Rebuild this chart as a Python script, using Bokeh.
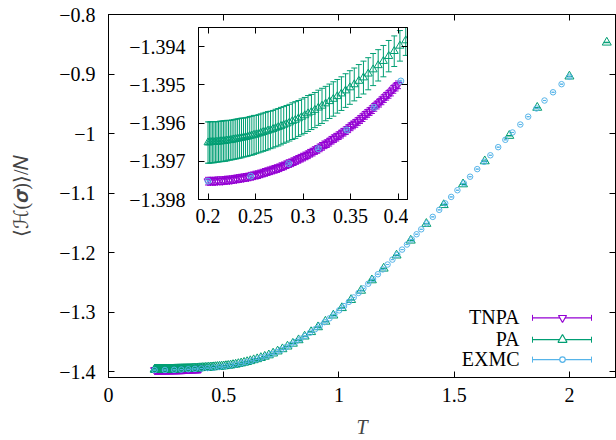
from bokeh.plotting import figure
from bokeh.models import Range1d, LinearAxis, FixedTicker, CustomJSTickFormatter, ColumnDataSource
from bokeh.layouts import column
from bokeh.embed import file_html
from bokeh.resources import INLINE
from bokeh.core.properties import value

# ---------------- data ----------------
TNPA_T = [0.2000, 0.2025, 0.2050, 0.2075, 0.2100, 0.2125, 0.2150, 0.2175, 0.2200, 0.2225,
          0.2250, 0.2275, 0.2300, 0.2325, 0.2350, 0.2375, 0.2400, 0.2425, 0.2450, 0.2475,
          0.2500, 0.2525, 0.2550, 0.2575, 0.2600, 0.2625, 0.2650, 0.2675, 0.2700, 0.2725,
          0.2750, 0.2775, 0.2800, 0.2825, 0.2850, 0.2875, 0.2900, 0.2925, 0.2950, 0.2975,
          0.3000, 0.3025, 0.3050, 0.3075, 0.3100, 0.3125, 0.3150, 0.3175, 0.3200, 0.3225,
          0.3250, 0.3275, 0.3300, 0.3325, 0.3350, 0.3375, 0.3400, 0.3425, 0.3450, 0.3475,
          0.3500, 0.3525, 0.3550, 0.3575, 0.3600, 0.3625, 0.3650, 0.3675, 0.3700, 0.3725,
          0.3750, 0.3775, 0.3800, 0.3825, 0.3850, 0.3875, 0.3900, 0.3925, 0.3950, 0.3975,
          0.4000]
TNPA_E = [-1.39752, -1.39752, -1.39752, -1.39752, -1.39751, -1.39751, -1.39751, -1.39750, -1.39749, -1.39749,
          -1.39748, -1.39747, -1.39746, -1.39745, -1.39744, -1.39743, -1.39742, -1.39741, -1.39739, -1.39738,
          -1.39736, -1.39735, -1.39733, -1.39731, -1.39729, -1.39727, -1.39725, -1.39723, -1.39721, -1.39719,
          -1.39717, -1.39714, -1.39712, -1.39709, -1.39706, -1.39704, -1.39701, -1.39698, -1.39695, -1.39692,
          -1.39689, -1.39686, -1.39683, -1.39679, -1.39676, -1.39672, -1.39669, -1.39665, -1.39661, -1.39657,
          -1.39654, -1.39650, -1.39645, -1.39641, -1.39637, -1.39633, -1.39629, -1.39624, -1.39620, -1.39615,
          -1.39610, -1.39605, -1.39601, -1.39596, -1.39591, -1.39586, -1.39580, -1.39575, -1.39570, -1.39565,
          -1.39559, -1.39553, -1.39548, -1.39542, -1.39536, -1.39530, -1.39525, -1.39519, -1.39512, -1.39506,
          -1.39500]
TNPA_ERR = [0.00010, 0.00010, 0.00010, 0.00010, 0.00010, 0.00010, 0.00010, 0.00010, 0.00010, 0.00010,
            0.00010, 0.00010, 0.00010, 0.00010, 0.00010, 0.00010, 0.00010, 0.00010, 0.00010, 0.00010,
            0.00010, 0.00010, 0.00010, 0.00010, 0.00010, 0.00010, 0.00010, 0.00010, 0.00010, 0.00010,
            0.00010, 0.00010, 0.00010, 0.00010, 0.00010, 0.00010, 0.00010, 0.00010, 0.00010, 0.00010,
            0.00010, 0.00010, 0.00010, 0.00010, 0.00010, 0.00010, 0.00010, 0.00010, 0.00010, 0.00010,
            0.00010, 0.00010, 0.00010, 0.00010, 0.00010, 0.00010, 0.00010, 0.00010, 0.00010, 0.00010,
            0.00010, 0.00010, 0.00010, 0.00010, 0.00010, 0.00010, 0.00010, 0.00010, 0.00010, 0.00010,
            0.00010, 0.00010, 0.00010, 0.00010, 0.00010, 0.00010, 0.00010, 0.00010, 0.00010, 0.00010,
            0.00010]

PA_T = [0.20000, 0.20151, 0.20305, 0.20460, 0.20619, 0.20779, 0.20942, 0.21108, 0.21277, 0.21448,
        0.21622, 0.21798, 0.21978, 0.22161, 0.22346, 0.22535, 0.22727, 0.22923, 0.23121, 0.23324,
        0.23529, 0.23739, 0.23952, 0.24169, 0.24390, 0.24615, 0.24845, 0.25078, 0.25316, 0.25559,
        0.25806, 0.26059, 0.26316, 0.26578, 0.26846, 0.27119, 0.27397, 0.27682, 0.27972, 0.28269,
        0.28571, 0.28881, 0.29197, 0.29520, 0.29851, 0.30189, 0.30534, 0.30888, 0.31250, 0.31621,
        0.32000, 0.32389, 0.32787, 0.33195, 0.33613, 0.34043, 0.34483, 0.34934, 0.35398, 0.35874,
        0.36364, 0.36866, 0.37383, 0.37915, 0.38462, 0.39024, 0.39604, 0.40201, 0.40816, 0.41451,
        0.42105, 0.42781, 0.43478, 0.44199, 0.44944, 0.45714, 0.46512, 0.47337, 0.48193, 0.49080,
        0.50000, 0.50955, 0.51948, 0.52980, 0.54054, 0.55172, 0.56338, 0.57554, 0.58824, 0.60150,
        0.61538, 0.62992, 0.64516, 0.66116, 0.67797, 0.69565, 0.71429, 0.73394, 0.75472, 0.77670,
        0.80000, 0.82474, 0.85106, 0.87912, 0.90909, 0.94118, 0.97561, 1.01266, 1.05263, 1.09589,
        1.14286, 1.19403, 1.25000, 1.31148, 1.37931, 1.45455, 1.53846, 1.63265, 1.73913, 1.86047,
        2.00000, 2.16216]
PA_E = [-1.39651, -1.39651, -1.39650, -1.39650, -1.39650, -1.39650, -1.39649, -1.39649, -1.39648, -1.39648,
        -1.39647, -1.39647, -1.39646, -1.39645, -1.39645, -1.39644, -1.39643, -1.39642, -1.39641, -1.39640,
        -1.39639, -1.39638, -1.39637, -1.39636, -1.39634, -1.39633, -1.39631, -1.39630, -1.39628, -1.39626,
        -1.39624, -1.39622, -1.39620, -1.39618, -1.39616, -1.39613, -1.39611, -1.39608, -1.39605, -1.39602,
        -1.39599, -1.39595, -1.39592, -1.39588, -1.39584, -1.39580, -1.39575, -1.39571, -1.39566, -1.39560,
        -1.39555, -1.39549, -1.39543, -1.39537, -1.39530, -1.39523, -1.39515, -1.39507, -1.39499, -1.39490,
        -1.39481, -1.39471, -1.39460, -1.39449, -1.39438, -1.39425, -1.39412, -1.39398, -1.39384, -1.39370,
        -1.39350, -1.39330, -1.39310, -1.39290, -1.39270, -1.39250, -1.39220, -1.39190, -1.39160, -1.39130,
        -1.39100, -1.39060, -1.39010, -1.38950, -1.38880, -1.38815, -1.38715, -1.38610, -1.38501, -1.38383,
        -1.38231, -1.38071, -1.37903, -1.37705, -1.37486, -1.37257, -1.36950, -1.36606, -1.36228, -1.35777,
        -1.35300, -1.34719, -1.34097, -1.33353, -1.32535, -1.31598, -1.30564, -1.29320, -1.27955, -1.26398,
        -1.24647, -1.22680, -1.20480, -1.17977, -1.15165, -1.12010, -1.08518, -1.04648, -1.00373, -0.95652,
        -0.90400, -0.84700]
PA_ERR = [0.00054, 0.00054, 0.00054, 0.00054, 0.00054, 0.00053, 0.00053, 0.00053, 0.00053, 0.00053,
          0.00053, 0.00053, 0.00053, 0.00052, 0.00052, 0.00052, 0.00052, 0.00052, 0.00052, 0.00052,
          0.00052, 0.00051, 0.00051, 0.00051, 0.00051, 0.00051, 0.00051, 0.00050, 0.00050, 0.00050,
          0.00050, 0.00050, 0.00050, 0.00049, 0.00049, 0.00049, 0.00049, 0.00049, 0.00048, 0.00048,
          0.00048, 0.00048, 0.00048, 0.00047, 0.00047, 0.00047, 0.00047, 0.00046, 0.00046, 0.00046,
          0.00046, 0.00045, 0.00045, 0.00045, 0.00044, 0.00044, 0.00044, 0.00044, 0.00043, 0.00043,
          0.00043, 0.00042, 0.00042, 0.00041, 0.00041, 0.00041, 0.00040, 0.00040, 0.00039, 0.00039,
          0.00039, 0.00039, 0.00039, 0.00039, 0.00039, 0.00039, 0.00039, 0.00039, 0.00039, 0.00039,
          0.00040, 0.00040, 0.00040, 0.00040, 0.00040, 0.00040, 0.00040, 0.00040, 0.00040, 0.00040,
          0.00040, 0.00040, 0.00040, 0.00040, 0.00040, 0.00040, 0.00040, 0.00040, 0.00040, 0.00040,
          0.00040, 0.00040, 0.00040, 0.00040, 0.00040, 0.00040, 0.00040, 0.00040, 0.00040, 0.00040,
          0.00040, 0.00040, 0.00040, 0.00040, 0.00040, 0.00040, 0.00040, 0.00040, 0.00040, 0.00040,
          0.00040, 0.00040]

EXMC_T = [0.200, 0.245, 0.285, 0.316, 0.346, 0.375, 0.403,
          0.430, 0.456, 0.481, 0.505, 0.529, 0.552, 0.575, 0.597, 0.619, 0.641,
          0.663, 0.685, 0.707, 0.728, 0.749, 0.770, 0.791, 0.812, 0.833, 0.854,
          0.875, 0.896, 0.917, 0.938, 0.959, 0.980, 1.001, 1.022, 1.043, 1.064,
          1.085, 1.106, 1.127, 1.148, 1.169, 1.190, 1.211, 1.232, 1.253, 1.274,
          1.295, 1.316, 1.337, 1.357, 1.381, 1.407, 1.435, 1.461, 1.487, 1.514,
          1.542, 1.569, 1.600, 1.630, 1.657, 1.691, 1.722, 1.753, 1.787, 1.821,
          1.857, 1.892, 1.929, 1.966, 2.000]
EXMC_E = [-1.39752, -1.39739, -1.39706, -1.39667, -1.39618, -1.39559, -1.39490,
          -1.39420, -1.39326, -1.39226, -1.39118, -1.38964, -1.38813, -1.38615, -1.38426, -1.38191, -1.37949,
          -1.37681, -1.37395, -1.37078, -1.36710, -1.36343, -1.35915, -1.35485, -1.35018, -1.34525, -1.34019,
          -1.33463, -1.32906, -1.32304, -1.31690, -1.31054, -1.30386, -1.29716, -1.29002, -1.28288, -1.27546,
          -1.26790, -1.26026, -1.25241, -1.24455, -1.23647, -1.22836, -1.22017, -1.21189, -1.20358, -1.19506,
          -1.18653, -1.17791, -1.16926, -1.16097, -1.15094, -1.14006, -1.12830, -1.11741, -1.10654, -1.09531,
          -1.08371, -1.07257, -1.05980, -1.04756, -1.03659, -1.02292, -1.01056, -0.99822, -0.98490, -0.97169,
          -0.95784, -0.94454, -0.93071, -0.91708, -0.90470]
EXMC_ERR = [0.00002, 0.00002, 0.00002, 0.00002, 0.00002, 0.00002, 0.00002,
            0.00010, 0.00010, 0.00010, 0.00010, 0.00010, 0.00010, 0.00010, 0.00010, 0.00010, 0.00010,
            0.00010, 0.00010, 0.00010, 0.00010, 0.00010, 0.00010, 0.00010, 0.00010, 0.00010, 0.00010,
            0.00010, 0.00010, 0.00010, 0.00010, 0.00010, 0.00010, 0.00010, 0.00010, 0.00010, 0.00010,
            0.00010, 0.00010, 0.00010, 0.00010, 0.00010, 0.00010, 0.00010, 0.00010, 0.00010, 0.00010,
            0.00010, 0.00010, 0.00010, 0.00010, 0.00010, 0.00010, 0.00010, 0.00010, 0.00010, 0.00010,
            0.00010, 0.00010, 0.00010, 0.00010, 0.00010, 0.00010, 0.00010, 0.00010, 0.00010, 0.00010,
            0.00010, 0.00010, 0.00010, 0.00010, 0.00010]

MAIN_X_TICKS = [0, 0.5, 1, 1.5, 2]
MAIN_Y_TICKS = [-1.4, -1.3, -1.2, -1.1, -1.0, -0.9, -0.8]
INSET_X_TICKS = [0.2, 0.25, 0.3, 0.35, 0.4]
INSET_Y_TICKS = [-1.398, -1.397, -1.396, -1.395, -1.394]

SERIES = ["TNPA", "PA", "EXMC"]

# ---------------- style ----------------
FONT = "Liberation Serif"
FS = "20px"
C_TNPA, C_PA, C_EXMC = "#9400D3", "#009E73", "#56B4E9"

FMT = CustomJSTickFormatter(code="""
const a = Math.abs(tick);
const s = String(parseFloat(a.toFixed(4)));
return (tick < -1e-9 ? "\u2212" : "") + s;
""")
EMPTY = CustomJSTickFormatter(code="return '';")


def style_axis(ax, ticks, labels, standoff=10):
    ax.ticker = FixedTicker(ticks=ticks)
    ax.major_tick_in = 6
    ax.major_tick_out = 0
    ax.minor_tick_in = 0
    ax.minor_tick_out = 0
    ax.axis_line_color = "black"
    ax.major_tick_line_color = "black"
    if labels:
        ax.formatter = FMT
        ax.major_label_text_font = FONT
        ax.major_label_text_font_size = FS
        ax.major_label_text_color = "black"
        ax.major_label_standoff = standoff
    else:
        ax.formatter = EMPTY
        ax.major_label_text_font_size = "0px"
        ax.major_label_standoff = 0


def draw_series(fig, T, E, err, color, marker, size, cap):
    src = ColumnDataSource(dict(T=T, E=E,
                                lo=[e - d for e, d in zip(E, err)],
                                hi=[e + d for e, d in zip(E, err)]))
    fig.segment(x0="T", y0="lo", x1="T", y1="hi", source=src, line_color=color, line_width=1)
    fig.scatter(x="T", y="lo", marker="dash", size=cap, line_color=color, line_width=1, source=src)
    fig.scatter(x="T", y="hi", marker="dash", size=cap, line_color=color, line_width=1, source=src)
    fig.scatter(x="T", y="E", marker=marker, size=size, line_color=color, fill_color=None,
                line_width=1, source=src)


# ---------------- main figure ----------------
p = figure(width=616, height=440, x_range=Range1d(0, 2.2), y_range=Range1d(-1.41, -0.8),
           output_backend="svg", toolbar_location=None,
           min_border_left=108, min_border_right=1, min_border_top=14, min_border_bottom=61)
p.xgrid.visible = False
p.ygrid.visible = False
p.outline_line_color = "black"
p.background_fill_color = "white"
p.border_fill_color = "white"

style_axis(p.xaxis[0], MAIN_X_TICKS, True, standoff=10)
style_axis(p.yaxis[0], MAIN_Y_TICKS, True, standoff=13)
p.xaxis[0].axis_label = "T"
p.xaxis[0].axis_label_text_font = FONT
p.xaxis[0].axis_label_text_font_size = FS
p.xaxis[0].axis_label_text_font_style = "italic"
p.xaxis[0].axis_label_standoff = 11
p.yaxis[0].axis_label = "⟨ℋ(𝝈)⟩/𝑁"
p.yaxis[0].axis_label_text_font = FONT
p.yaxis[0].axis_label_text_font_size = FS
p.yaxis[0].axis_label_text_font_style = "normal"
p.yaxis[0].axis_label_standoff = 24

top_ax = LinearAxis()
style_axis(top_ax, MAIN_X_TICKS, False)
p.add_layout(top_ax, "above")
right_ax = LinearAxis()
style_axis(right_ax, MAIN_Y_TICKS, False)
p.add_layout(right_ax, "right")

draw_series(p, TNPA_T, TNPA_E, TNPA_ERR, C_TNPA, "inverted_triangle", 8, 6)
draw_series(p, PA_T, PA_E, PA_ERR, C_PA, "triangle", 9, 6)
draw_series(p, EXMC_T, EXMC_E, EXMC_ERR, C_EXMC, "circle", 5.5, 3)

# legend drawn in frame pixel coordinates
p.extra_x_ranges = {"px": Range1d(108, 615)}
p.extra_y_ranges = {"py": Range1d(379, 14)}
leg_y = [319, 341, 361]
leg_colors = [C_TNPA, C_PA, C_EXMC]
leg_markers = ["inverted_triangle", "triangle", "circle"]
leg_sizes = [8, 9, 5.5]
p.text(x=[519] * 3, y=[yy - 1 for yy in leg_y], text=SERIES, x_range_name="px", y_range_name="py",
       text_font=value(FONT), text_font_size=FS, text_align="right", text_baseline="middle",
       text_color="black")
p.segment(x0=[532] * 3, y0=leg_y, x1=[591] * 3, y1=leg_y, line_color=leg_colors, line_width=1.2,
          x_range_name="px", y_range_name="py")
p.segment(x0=[532] * 3, y0=[yy - 3 for yy in leg_y], x1=[532] * 3, y1=[yy + 3 for yy in leg_y],
          line_color=leg_colors, line_width=1, x_range_name="px", y_range_name="py")
p.segment(x0=[591] * 3, y0=[yy - 3 for yy in leg_y], x1=[591] * 3, y1=[yy + 3 for yy in leg_y],
          line_color=leg_colors, line_width=1, x_range_name="px", y_range_name="py")
p.scatter(x=[562] * 3, y=leg_y, marker=leg_markers, size=leg_sizes, line_color=leg_colors,
          fill_color="white", line_width=1.2, x_range_name="px", y_range_name="py")

# ---------------- inset figure ----------------
# borders match the main figure's so the column's frame alignment leaves them unchanged
ins = figure(width=318, height=212, x_range=Range1d(0.19, 0.41), y_range=Range1d(-1.398, -1.3935),
             output_backend="svg", toolbar_location=None,
             min_border_left=108, min_border_right=1, min_border_top=4, min_border_bottom=36)
ins.xgrid.visible = False
ins.ygrid.visible = False
ins.outline_line_color = "black"
ins.background_fill_color = "white"
ins.border_fill_color = None
style_axis(ins.xaxis[0], INSET_X_TICKS, True, standoff=9)
style_axis(ins.yaxis[0], INSET_Y_TICKS, True, standoff=13)
ins_top = LinearAxis()
style_axis(ins_top, INSET_X_TICKS, False)
ins.add_layout(ins_top, "above")
ins_right = LinearAxis()
style_axis(ins_right, INSET_Y_TICKS, False)
ins.add_layout(ins_right, "right")

draw_series(ins, TNPA_T, TNPA_E, TNPA_ERR, C_TNPA, "inverted_triangle", 8, 6)
draw_series(ins, PA_T, PA_E, PA_ERR, C_PA, "triangle", 8, 6)
draw_series(ins, EXMC_T, EXMC_E, EXMC_ERR, C_EXMC, "circle", 6, 3)

ins.styles = {"position": "absolute", "left": "90px", "top": "23px", "z-index": "5"}

layout = column(p, ins)
open("out.html", "w").write(file_html(layout, INLINE))
